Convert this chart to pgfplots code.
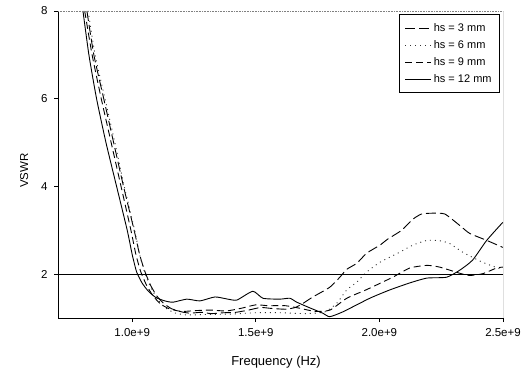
\documentclass[border=0pt]{standalone}
\usepackage{fontspec}
\setmainfont{Liberation Sans}
\usepackage{pgfplots}
\pgfplotsset{compat=1.18}
\begin{document}
\begin{tikzpicture}[x=1pt,y=1pt]
\path[use as bounding box] (0,0) rectangle (526,374);
\begin{axis}[
  at={(58pt,56pt)}, anchor=south west,
  scale only axis, width=445pt, height=307pt,
  xmin=0.7, xmax=2.5, ymin=1, ymax=8,
  axis x line*=bottom, axis y line*=left,
  axis line style={black, line width=0.7pt},
  xtick={1,1.5,2,2.5},
  xticklabels={1.0e+9,1.5e+9,2.0e+9,2.5e+9},
  ytick={2,4,6,8},
  yticklabels={2,4,6,8},
  /pgf/number format/assume math mode=true,
  tick align=outside, major tick length=4pt,
  tick style={black, line width=0.6pt},
  tick label style={font=\fontsize{11.5}{13}\selectfont},
  xticklabel style={yshift=-3pt},
  yticklabel style={xshift=-3pt},
  xlabel={Frequency (Hz)},
  xlabel style={at={(axis description cs:0.49,-0.143)}, anchor=center, font=\fontsize{13}{15}\selectfont},
  ylabel={VSWR},
  ylabel style={at={(axis description cs:-0.076,0.48)}, anchor=center, font=\fontsize{11.5}{13}\selectfont},
  legend style={at={(0.993,0.99)}, anchor=north east, draw=black, line width=0.6pt,
    font=\fontsize{11}{13}\selectfont, row sep=3.5pt, inner xsep=6pt, inner ysep=7pt},
  legend cell align=left,
  legend image code/.code={\draw[#1] (0pt,0pt) -- (26pt,0pt);},
  every axis plot/.append style={smooth, tension=0.35},
]
% hs = 3 mm (long dash)
\addplot[black, line width=0.9pt, dash pattern=on 10pt off 4pt] coordinates {
(0.817,8.0) (0.845,7.0) (0.885,6.0) (0.925,5.0) (0.965,4.0) (1.008,3.0) (1.030,2.45) (1.052,2.05)
(1.075,1.74) (1.100,1.50) (1.128,1.33) (1.160,1.21) (1.200,1.14) (1.234,1.11) (1.28,1.13) (1.32,1.10)
(1.37,1.12) (1.42,1.13) (1.47,1.18) (1.52,1.24) (1.56,1.22) (1.62,1.20) (1.66,1.24)
(1.690,1.33) (1.731,1.48) (1.799,1.70) (1.840,1.93) (1.868,2.11) (1.909,2.25) (1.949,2.48)
(2.002,2.66) (2.034,2.80) (2.09,3.00) (2.135,3.25) (2.170,3.37) (2.216,3.39) (2.265,3.37)
(2.325,3.11) (2.365,2.93) (2.434,2.77) (2.499,2.61)
};
\addlegendentry{hs = 3 mm}
% hs = 6 mm (dotted)
\addplot[black!80, line width=0.9pt, dash pattern=on 1pt off 4pt] coordinates {
(0.822,8.0) (0.850,7.0) (0.890,6.0) (0.930,5.0) (0.968,4.0) (1.010,3.0) (1.030,2.45) (1.050,2.05)
(1.075,1.70) (1.100,1.45) (1.130,1.25) (1.170,1.12) (1.220,1.07) (1.30,1.08) (1.40,1.09) (1.50,1.12)
(1.60,1.12) (1.70,1.10) (1.78,1.14) (1.828,1.34) (1.868,1.64) (1.909,1.82) (1.949,2.05)
(2.002,2.27) (2.082,2.50) (2.135,2.66) (2.192,2.77) (2.245,2.76) (2.284,2.70) (2.337,2.50)
(2.418,2.27) (2.499,2.10)
};
\addlegendentry{hs = 6 mm}
% hs = 9 mm (medium dash)
\addplot[black, line width=0.9pt, dash pattern=on 7pt off 4pt] coordinates {
(0.808,8.0) (0.838,7.0) (0.875,6.0) (0.915,5.0) (0.955,4.0) (0.995,3.0) (1.015,2.45) (1.035,2.05)
(1.058,1.75) (1.085,1.50) (1.115,1.32) (1.150,1.21) (1.200,1.15) (1.26,1.17) (1.32,1.18) (1.38,1.16)
(1.44,1.22) (1.50,1.30) (1.55,1.28) (1.62,1.28) (1.68,1.22) (1.74,1.15) (1.80,1.18)
(1.868,1.45) (1.933,1.61) (1.961,1.68) (2.054,1.93) (2.123,2.14) (2.192,2.20) (2.244,2.16)
(2.325,2.02) (2.365,1.97) (2.418,2.01) (2.474,2.14) (2.499,2.16)
};
\addlegendentry{hs = 9 mm}
% hs = 12 mm (solid)
\addplot[black, line width=0.9pt] coordinates {
(0.801,8.0) (0.825,7.0) (0.856,6.0) (0.894,5.0) (0.937,4.0) (0.980,3.0) (1.000,2.45) (1.018,2.05)
(1.040,1.80) (1.064,1.62) (1.095,1.47) (1.132,1.39) (1.165,1.36) (1.221,1.43) (1.274,1.39) (1.335,1.48)
(1.387,1.43) (1.424,1.41) (1.488,1.61) (1.529,1.45) (1.597,1.43) (1.638,1.45) (1.666,1.36)
(1.719,1.23) (1.771,1.11) (1.799,1.03) (1.852,1.14) (1.961,1.45) (2.042,1.64) (2.123,1.80)
(2.192,1.91) (2.272,1.93) (2.325,2.09) (2.377,2.32) (2.434,2.77) (2.499,3.18)
};
\addlegendentry{hs = 12 mm}
% VSWR = 2 reference line
\addplot[black, line width=0.6pt, forget plot, sharp plot] coordinates {(0.7,2) (2.5,2)};
\draw[black!50, line width=0.6pt, densely dotted] (rel axis cs:0,1) -- (rel axis cs:1,1);
\draw[black, line width=0.6pt] (rel axis cs:1,0) -- (rel axis cs:1,1);
\end{axis}
\end{tikzpicture}
\end{document}
